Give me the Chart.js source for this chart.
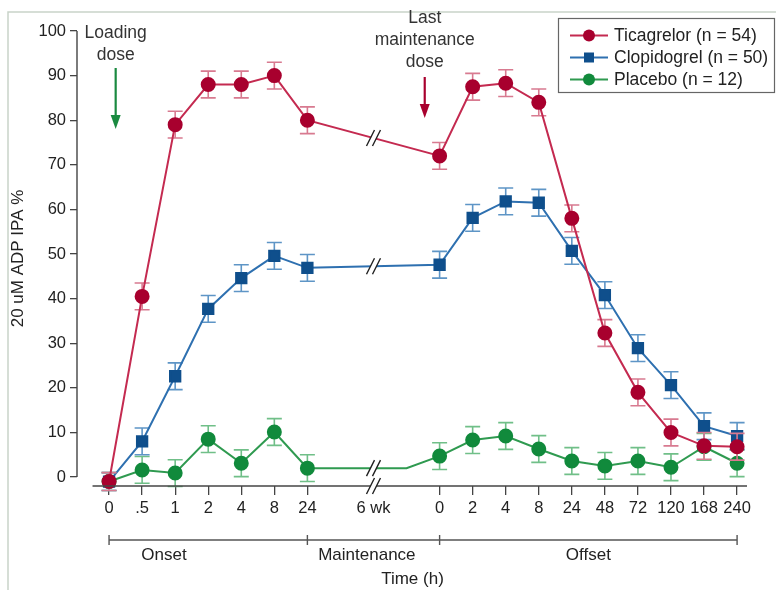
<!DOCTYPE html>
<html>
<head>
<meta charset="utf-8">
<script src="https://cdn.jsdelivr.net/npm/chart.js@4"></script>
<style>
  html, body { margin: 0; padding: 0; background: #fff; }
  #wrap { width: 776px; height: 590px; }
</style>
</head>
<body>
<div id="wrap"><canvas id="c"></canvas></div>
<script>
// time points (empty slots = gap around the 6 wk break)
const timeLabels = ['0', '.5', '1', '2', '4', '8', '24', '', '6 wk', '', '0', '2', '4', '8', '24', '48', '72', '120', '168', '240'];
const yTicks = [0, 10, 20, 30, 40, 50, 60, 70, 80, 90, 100];
const phaseLabels = ['Onset', 'Maintenance', 'Offset'];

const ticagrelor    = [-1, 40.5, 79, 88, 88, 90, 80, null, null, null, 72, 87.5, 88.3, 84, 58, 32.3, 19, 10, 7, 6.8];
const ticagrelorErr = [2, 3, 3, 3, 3, 3, 3, null, null, null, 3, 3, 3, 3, 3, 3, 3, 3, 3, 3];
const clopidogrel    = [-1, 8, 22.6, 37.7, 44.6, 49.6, 46.9, null, null, null, 47.6, 58.1, 61.8, 61.5, 50.7, 40.8, 28.9, 20.6, 11.4, 9.2];
const clopidogrelErr = [2, 3, 3, 3, 3, 3, 3, null, null, null, 3, 3, 3, 3, 3, 3, 3, 3, 3, 3];
// placebo stays flat through maintenance, then a bend just before the last dose
const placebo    = [-1, 1.6, 0.9, 8.5, 3.1, 10.1, 2, null, null, 2, 4.7, 8.3, 9.2, 6.3, 3.6, 2.5, 3.6, 2.2, 6.8, 3.1];
const placeboErr = [2, 3, 3, 3, 3, 3, 3, null, null, null, 3, 3, 3, 3, 3, 3, 3, 3, 3, 3];

function toPoints(vals) {
  return vals.map((v, i) => v === null ? null : { x: i, y: v }).filter(p => p);
}
function toErr(vals, errs) {
  return errs.filter((e, i) => vals[i] !== null);
}

const FONT = 'Liberation Sans, Arial, sans-serif';

// error bars, breaks, axes, bracket, notes and legend
const extras = {
  id: 'extras',
  beforeDatasetDraw(chart, args) {
    const ds = chart.data.datasets[args.index];
    const y = chart.scales.y;
    const ctx = chart.ctx;
    ctx.save();
    ctx.strokeStyle = ds.errColor;
    ctx.lineWidth = 1.6;
    ds.data.forEach((p, j) => {
      const e = ds.errors[j];
      if (e === null) return;
      const px = args.meta.data[j].x;
      const t = y.getPixelForValue(p.y + e);
      const b = y.getPixelForValue(p.y - e);
      ctx.beginPath();
      ctx.moveTo(px, t); ctx.lineTo(px, b);
      ctx.moveTo(px - 7.5, t); ctx.lineTo(px + 7.5, t);
      ctx.moveTo(px - 7.5, b); ctx.lineTo(px + 7.5, b);
      ctx.stroke();
    });
    ctx.restore();
  },
  afterDraw(chart) {
    const ctx = chart.ctx;
    const x = chart.scales.x, y = chart.scales.y;
    const area = chart.chartArea;
    ctx.save();

    // outer frame (top + left)
    ctx.strokeStyle = '#c9d3c9';
    ctx.lineWidth = 1.5;
    ctx.beginPath();
    ctx.moveTo(8, 590); ctx.lineTo(8, 12); ctx.lineTo(776, 12);
    ctx.stroke();

    // y axis line
    ctx.strokeStyle = '#444';
    ctx.lineWidth = 1.4;
    ctx.beginPath();
    ctx.moveTo(area.left, y.getPixelForValue(0));
    ctx.lineTo(area.left, y.getPixelForValue(100));
    ctx.stroke();

    // x axis line
    ctx.beginPath();
    ctx.moveTo(x.getPixelForValue(-0.5), area.bottom);
    ctx.lineTo(x.getPixelForValue(19.3), area.bottom);
    ctx.stroke();

    function brk(cx, cy) {
      ctx.strokeStyle = '#fff';
      ctx.lineWidth = 5;
      ctx.beginPath();
      ctx.moveTo(cx - 3, cy + 6); ctx.lineTo(cx + 3, cy - 6);
      ctx.stroke();
      ctx.strokeStyle = '#222';
      ctx.lineWidth = 1.4;
      ctx.beginPath();
      [-3, 3].forEach(d => {
        ctx.moveTo(cx + d - 4, cy + 8); ctx.lineTo(cx + d + 4, cy - 8);
      });
      ctx.stroke();
    }
    const bx = x.getPixelForValue(8);
    brk(bx, area.bottom);
    chart.data.datasets.forEach((ds, i) => {
      const pts = chart.getDatasetMeta(i).data;
      const a = pts[6], b = pts[7];
      brk(bx, a.y + (b.y - a.y) * (bx - a.x) / (b.x - a.x));
    });

    // phase bracket
    const by = 540;
    ctx.strokeStyle = '#555';
    ctx.lineWidth = 1.4;
    ctx.beginPath();
    ctx.moveTo(x.getPixelForValue(0), by); ctx.lineTo(x.getPixelForValue(19), by);
    [0, 6, 10, 19].forEach(v => {
      const px = x.getPixelForValue(v);
      ctx.moveTo(px, by - 5); ctx.lineTo(px, by + 5);
    });
    ctx.stroke();
    ctx.fillStyle = '#222';
    ctx.font = '17px ' + FONT;
    ctx.textAlign = 'center';
    ctx.textBaseline = 'middle';
    [1.66, 7.8, 14.5].forEach((v, i) => {
      ctx.fillText(phaseLabels[i], x.getPixelForValue(v), 555);
    });

    // dose notes
    ctx.font = '17.5px ' + FONT;
    ctx.fillStyle = '#333';
    const lx = x.getPixelForValue(0.2);
    ctx.fillText('Loading', lx, 33);
    ctx.fillText('dose', lx, 55);
    const mx = x.getPixelForValue(9.55);
    ctx.fillText('Last', mx, 18);
    ctx.fillText('maintenance', mx, 40);
    ctx.fillText('dose', mx, 62);

    function arrow(px, y0, y1, col) {
      ctx.strokeStyle = col;
      ctx.fillStyle = col;
      ctx.lineWidth = 2.2;
      ctx.beginPath();
      ctx.moveTo(px, y0); ctx.lineTo(px, y1 - 10);
      ctx.stroke();
      ctx.beginPath();
      ctx.moveTo(px - 5, y1 - 14); ctx.lineTo(px + 5, y1 - 14); ctx.lineTo(px, y1);
      ctx.closePath();
      ctx.fill();
    }
    arrow(lx, 68, 129, '#1a8a40');
    arrow(mx, 77, 118, '#a8002e');

    // legend
    ctx.strokeStyle = '#666';
    ctx.lineWidth = 1.2;
    ctx.strokeRect(558.5, 18.5, 216, 74);
    ctx.font = '17.5px ' + FONT;
    ctx.textAlign = 'left';
    chart.data.datasets.forEach((ds, i) => {
      const ry = 35.5 + i * 22;
      ctx.strokeStyle = ds.borderColor;
      ctx.lineWidth = 2;
      ctx.beginPath();
      ctx.moveTo(570, ry); ctx.lineTo(608, ry);
      ctx.stroke();
      ctx.fillStyle = ds.pointBackgroundColor;
      ctx.beginPath();
      if (ds.pointStyle === 'rect') ctx.rect(584, ry - 5, 10, 10);
      else ctx.arc(589, ry, 6, 0, Math.PI * 2);
      ctx.fill();
      ctx.fillStyle = '#222';
      ctx.fillText(ds.label, 614, ry + 1);
    });

    ctx.restore();
  }
};

function series(label, vals, errs, line, marker, err, style, r) {
  const errors = toErr(vals, errs);
  return {
    label: label,
    data: toPoints(vals),
    errors: errors,
    errColor: err,
    borderColor: line,
    backgroundColor: marker,
    pointBackgroundColor: marker,
    pointBorderColor: marker,
    pointStyle: style,
    // bend points without an error value get no marker
    pointRadius: errors.map(e => e === null ? 0 : r),
    borderWidth: 2,
    tension: 0,
    clip: false
  };
}

new Chart(document.getElementById('c'), {
  type: 'line',
  data: {
    datasets: [
      series('Ticagrelor (n = 54)', ticagrelor, ticagrelorErr, '#c42a50', '#a8002e', '#d87a90', 'circle', 6.5),
      series('Clopidogrel (n = 50)', clopidogrel, clopidogrelErr, '#2e70b0', '#0f4f8c', '#5e95c6', 'rect', 7.3),
      series('Placebo (n = 12)', placebo, placeboErr, '#2f9a50', '#118a3c', '#70bf88', 'circle', 6.5)
    ]
  },
  options: {
    responsive: true,
    maintainAspectRatio: false,
    animation: false,
    layout: { padding: { left: 0, top: 31, right: 28, bottom: 0 } },
    plugins: { legend: { display: false }, tooltip: { enabled: false } },
    scales: {
      x: {
        type: 'linear',
        min: -0.97,
        max: 19.33,
        afterFit: s => { s.height = 104; },
        afterBuildTicks: s => {
          s.ticks = timeLabels.map((l, i) => ({ value: i })).filter(t => timeLabels[t.value] !== '');
        },
        ticks: {
          autoSkip: false,
          maxRotation: 0,
          padding: 4,
          color: '#222',
          font: { family: FONT, size: 16.5 },
          callback: v => timeLabels[v]
        },
        grid: {
          drawOnChartArea: false,
          tickLength: 9,
          lineWidth: 1.3,
          tickColor: c => (c.tick && c.tick.value === 8) ? 'rgba(0,0,0,0)' : '#444'
        },
        border: { display: false },
        title: {
          display: true,
          text: 'Time (h)',
          color: '#222',
          font: { family: FONT, size: 17 },
          padding: { top: 0, bottom: 0 }
        }
      },
      y: {
        min: -2,
        max: 100,
        afterFit: s => { s.width = 77; },
        afterBuildTicks: s => {
          const t = [];
          yTicks.forEach((v, i) => {
            t.push({ value: v });
            if (i < yTicks.length - 1) t.push({ value: (v + yTicks[i + 1]) / 2 });
          });
          s.ticks = t;
        },
        ticks: {
          padding: 4,
          color: '#222',
          font: { family: FONT, size: 16.5 },
          callback: v => yTicks.includes(v) ? v : ''
        },
        grid: { drawOnChartArea: false, tickLength: 7, lineWidth: 1.3, tickColor: '#444' },
        border: { display: false },
        title: {
          display: true,
          text: '20 uM ADP IPA %',
          color: '#222',
          font: { family: FONT, size: 17 },
          padding: { top: 8, bottom: 0 }
        }
      }
    }
  },
  plugins: [extras]
});
</script>
</body>
</html>
